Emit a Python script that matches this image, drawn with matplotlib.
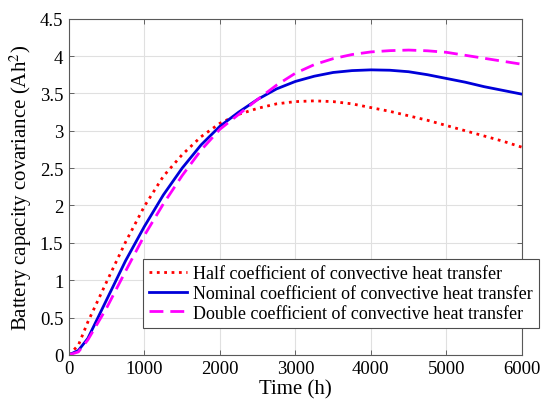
import matplotlib
matplotlib.use('Agg')
import matplotlib.pyplot as plt
from matplotlib.ticker import FormatStrFormatter

# time axis (h)
time_h = [0, 125, 250, 500, 750, 1000, 1250, 1500, 1750, 2000, 2250, 2500, 2750,
          3000, 3250, 3500, 3750, 4000, 4250, 4500, 4750, 5000, 5250, 5500, 5750, 6000]

# covariance values (Ah^2)
half_coef = [0, 0.13, 0.44, 0.98, 1.51, 1.99, 2.39, 2.68, 2.92, 3.10, 3.22, 3.30, 3.36,
             3.39, 3.40, 3.39, 3.36, 3.31, 3.26, 3.20, 3.14, 3.07, 3.00, 2.93, 2.86, 2.78]
nominal_coef = [0, 0.06, 0.22, 0.74, 1.26, 1.72, 2.14, 2.50, 2.81, 3.06, 3.25, 3.42, 3.56,
                3.66, 3.73, 3.78, 3.805, 3.815, 3.81, 3.79, 3.75, 3.70, 3.65, 3.59, 3.54, 3.49]
double_coef = [0, 0.04, 0.20, 0.63, 1.12, 1.60, 2.02, 2.40, 2.74, 3.02, 3.22, 3.42, 3.61,
               3.77, 3.885, 3.965, 4.02, 4.055, 4.072, 4.08, 4.07, 4.05, 4.01, 3.97, 3.93, 3.89]

labels = ['Half coefficient of convective heat transfer',
          'Nominal coefficient of convective heat transfer',
          'Double coefficient of convective heat transfer']

plt.rcParams['font.family'] = ['Liberation Serif', 'DejaVu Serif']
plt.rcParams['mathtext.fontset'] = 'stix'

fig = plt.figure(figsize=(5.43, 4.10), dpi=100)
ax = fig.add_axes([0.127, 0.132, 0.834, 0.820])

ax.plot(time_h, half_coef, ':', color='red', linewidth=2.0, label=labels[0])
ax.plot(time_h, nominal_coef, '-', color=(0, 0, 0.85), linewidth=2.0, label=labels[1])
ax.plot(time_h, double_coef, '--', color='magenta', linewidth=2.0, label=labels[2],
        dashes=(5, 2.5))

ax.set_xlim(0, 6000)
ax.set_ylim(0, 4.5)
ax.set_xticks(range(0, 6001, 1000))
ax.set_yticks([i * 0.5 for i in range(10)])
ax.yaxis.set_major_formatter(FormatStrFormatter('%g'))
ax.tick_params(direction='in', top=True, right=True, labelsize=13.5,
               length=3.5, width=0.6, color='0.3', pad=4)
ax.grid(True, color='0.88', linewidth=0.8)
for sp in ax.spines.values():
    sp.set_color('0.35')
    sp.set_linewidth(0.8)

ax.set_xlabel('Time (h)', fontsize=15, labelpad=1)
ax.set_ylabel('Battery capacity covariance (Ah$^2$)', fontsize=15, labelpad=4)

leg = ax.legend(loc='upper left', bbox_to_anchor=(143 / 543, 1 - 260 / 410),
                bbox_transform=fig.transFigure, fontsize=13, frameon=True,
                fancybox=False, framealpha=1, edgecolor='0.3', borderaxespad=0,
                handlelength=2.1, handletextpad=0.3, labelspacing=0.15,
                borderpad=0.35)
leg.get_frame().set_linewidth(0.8)

fig.savefig('out.png', dpi=100)
